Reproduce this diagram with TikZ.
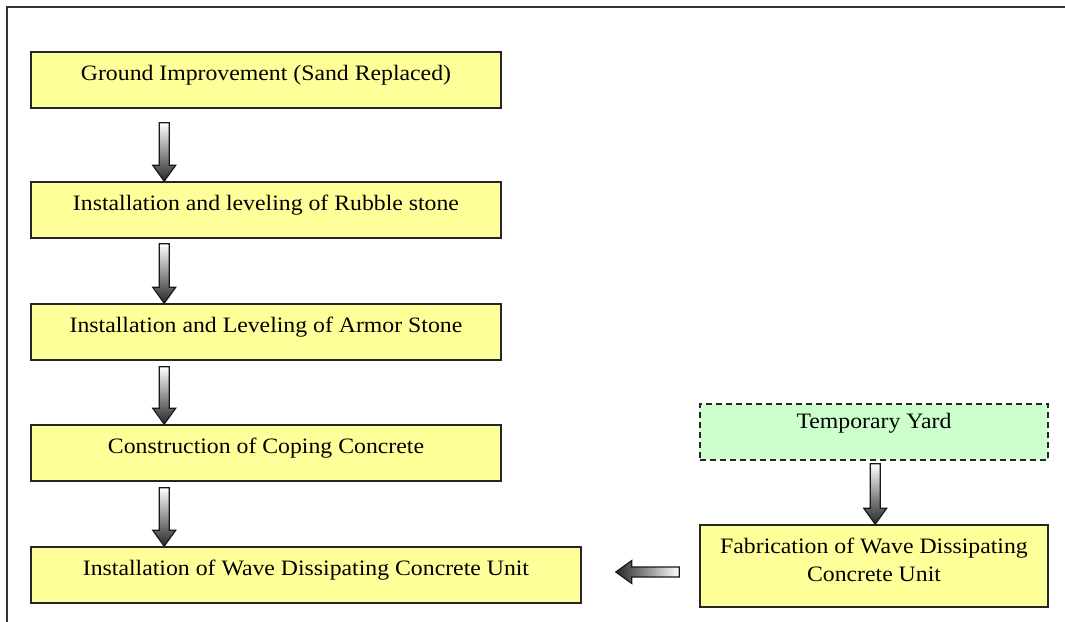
\documentclass[tikz,border=0pt]{standalone}
\usepackage{fontspec}
\setmainfont{Liberation Serif}[FakeStretch=1.08]
\usetikzlibrary{calc}
\definecolor{note}{HTML}{FFFF99}
\definecolor{yard}{HTML}{CCFFCC}
\definecolor{frame}{HTML}{333333}
% downward block arrow: x offset, upper node, lower node, gap under the upper node
\newcommand{\flowdown}[4]{%
  \path[flowfill,top color=white,bottom color=black!85]
    let \p1=($(#2.south west)+(#1,-#4)$), \p2=($(#3.north west)+(#1,0)$) in
    (\x1-2.5pt,\y1) -- (\x1+2.5pt,\y1) -- (\x1+2.5pt,\y2+8pt) -- (\x1+5.75pt,\y2+8pt)
    -- (\x1,\y2) -- (\x1-5.75pt,\y2+8pt) -- (\x1-2.5pt,\y2+8pt) -- cycle;
}
% leftward block arrow from the west side of #1 to the east side of #2
\newcommand{\flowleft}[2]{%
  \path[flowfill,left color=black!85,right color=white]
    let \p1=($(#1.west)+(-10pt,-3pt)$), \p2=($(#2.east)+(17pt,0)$) in
    (\x1,\y1-2.5pt) -- (\x1,\y1+2.5pt) -- (\x2+8pt,\y1+2.5pt) -- (\x2+8pt,\y1+5.75pt)
    -- (\x2,\y1) -- (\x2+8pt,\y1-5.75pt) -- (\x2+8pt,\y1-2.5pt) -- cycle;
}

\begin{document}
\begin{tikzpicture}[x=0.5pt,y=-0.5pt,
    box/.style={draw=black!85,line width=0.8pt,fill=note,inner sep=0pt,
      minimum width=235pt,font=\fontsize{11}{14}\selectfont},
    stage/.style={box,text height=14pt,text depth=14pt},
    flowfill/.style={draw=black!90,line width=0.6pt}]
  \clip (0,0) rectangle (1065,621);
  \fill[white] (0,0) rectangle (1065,621);
  \draw[frame,line width=1pt] (7,650) -- (7,7) -- (1090,7);

  % main sequence
  \node[stage] (g1) at (266,80) {Ground Improvement (Sand Replaced)};
  \node[stage] (g2) at (266,210) {Installation and leveling of Rubble stone};
  \node[stage] (g3) at (266,332) {Installation and Leveling of Armor Stone};
  \node[stage] (g4) at (266,453) {Construction of Coping Concrete};
  \node[stage,minimum width=275pt] (g5) at (306,575) {Installation of Wave Dissipating Concrete Unit};

  % side branch
  \node[stage,fill=yard,dash pattern=on 3pt off 2pt,minimum width=174pt,
    text height=12pt,text depth=16pt] (yard) at (874,432) {Temporary Yard};
  \node[box,minimum width=174pt,align=center,text height=28pt,text depth=13pt] (fab) at (874,566)
    {Fabrication of Wave Dissipating\\Concrete Unit};

  \flowdown{67pt}{g1}{g2}{7pt}
  \flowdown{67pt}{g2}{g3}{2.5pt}
  \flowdown{67pt}{g3}{g4}{3pt}
  \flowdown{67pt}{g4}{g5}{3pt}
  \flowdown{88pt}{yard}{fab}{1.5pt}
  \flowleft{fab}{g5}
\end{tikzpicture}
\end{document}
